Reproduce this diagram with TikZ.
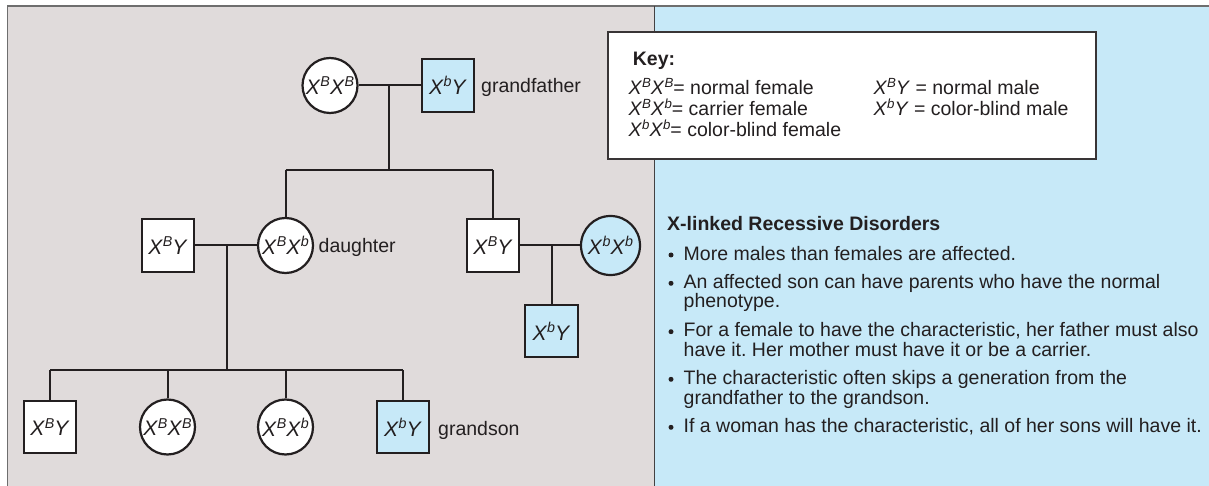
\documentclass[tikz,border=0pt]{standalone}
\usepackage{graphicx}
\usepackage{fontspec}
\setmainfont{Liberation Sans}
\frenchspacing
\definecolor{panelgray}{HTML}{E0DBDB}
\definecolor{panelblue}{HTML}{C7E9F8}
\definecolor{ink}{HTML}{231F20}
\definecolor{framegray}{HTML}{6E6E6E}
\newcommand\xg[1]{\textit{X}\raisebox{0.37em}{\scalebox{0.68}{\textit{#1}}}}
\begin{document}
\begin{tikzpicture}[x=1pt,y=-1pt,
  every node/.style={text=ink},
  body/.style={font=\fontsize{19.5}{19.5}\selectfont},
  ped/.style={font=\fontsize{21}{21}\selectfont},
  male/.style={ped, draw=ink, line width=2.2pt, rectangle, minimum size=52.5pt, inner sep=0pt, fill=white},
  female/.style={ped, draw=ink, line width=2.2pt, circle, minimum size=55pt, inner sep=0pt, fill=white},
  affected/.style={fill=panelblue},
  link/.style={draw=ink, line width=2pt},
  lbl/.style={body, anchor=base west, inner sep=0pt},
  dot/.style={fill=ink, circle, inner sep=0pt, minimum size=5pt}]
\useasboundingbox (0,0) rectangle (1209,486);
% panels
\fill[panelgray] (7.5,6) rectangle (654.5,486);
\fill[panelblue] (654.5,6) rectangle (1209,486);
\draw[framegray, line width=1.5pt] (7.5,486) -- (7.5,6) -- (1209,6);
\draw[ink!85, line width=1.5pt] (654.5,6) -- (654.5,486);

% key box
\draw[draw=ink!90, line width=1.3pt, fill=white] (608,32) rectangle (1096,159);
\node[lbl, font=\bfseries\fontsize{19.5}{19.5}\selectfont] (key) at (632.7,66) {Key:};
\node[lbl] (k1) at (628.3,94.3) {\xg{B}\xg{B}= normal female};
\node[lbl] (k2) at (628.3,116) {\xg{B}\xg{b}= carrier female};
\node[lbl] (k3) at (628.3,136.7) {\xg{b}\xg{b}= color-blind female};
\node[lbl] (k4) at (873.3,94.3) {\xg{B}\textit{Y} = normal male};
\node[lbl] (k5) at (873.3,116) {\xg{b}\textit{Y} = color-blind male};

% disorder text
\node[lbl, font=\bfseries\fontsize{19.5}{19.5}\selectfont] (title) at (667,231) {X-linked Recessive Disorders};
\node[dot] (d1) at (671,255) {};
\node[lbl] (t1) at (683.5,260) {More males than females are affected.};
\node[dot] (d2) at (671,283.3) {};
\node[lbl] (t2a) at (683.5,288.3) {An affected son can have parents who have the normal};
\node[lbl] (t2b) at (683.5,307.7) {phenotype.};
\node[dot] (d3) at (671,331.7) {};
\node[lbl] (t3a) at (683.5,336.7) {For a female to have the characteristic, her father must also};
\node[lbl] (t3b) at (683.5,356) {have it. Her mother must have it or be a carrier.};
\node[dot] (d4) at (671,379.3) {};
\node[lbl] (t4a) at (683.5,384.3) {The characteristic often skips a generation from the};
\node[lbl] (t4b) at (683.5,404) {grandfather to the grandson.};
\node[dot] (d5) at (671,427.3) {};
\node[lbl] (t5) at (683.5,432.3) {If a woman has the characteristic, all of her sons will have it.};

% pedigree - generation I
\node[female] (gm) at (330,85.5) {\xg{B}\xg{B}};
\node[male, affected] (gf) at (448,85.5) {\xg{b}\textit{Y}};
\node[lbl] (gfl) at (481,93) {grandfather};
\coordinate (m1) at (389,85.5);
\coordinate (s1) at (389,170);
\coordinate (s1l) at (285.5,170);
\coordinate (s1r) at (493,170);

% generation II
\node[male] (hus) at (168,245.5) {\xg{B}\textit{Y}};
\node[female] (dau) at (285.5,245.5) {\xg{B}\xg{b}};
\node[lbl] (daul) at (318.5,253) {daughter};
\node[male] (son) at (493,245.5) {\xg{B}\textit{Y}};
\node[female, affected, minimum size=59pt] (wife) at (610.5,245.5) {\xg{b}\xg{b}};
\coordinate (m2) at (227,245.5);
\coordinate (s2) at (227,370);
\coordinate (m3) at (551.5,245.5);

% generation III
\node[male] (c1) at (50,427) {\xg{B}\textit{Y}};
\node[female] (c2) at (167.5,427) {\xg{B}\xg{B}};
\node[female] (c3) at (285.5,427) {\xg{B}\xg{b}};
\node[male, affected] (c4) at (403,427) {\xg{b}\textit{Y}};
\node[lbl] (c4l) at (438,435) {grandson};
\node[male, affected] (gc) at (551.5,331) {\xg{b}\textit{Y}};
\coordinate (s2l) at (50,370);
\coordinate (s2r) at (403,370);

% connectors
\draw[link] (gm.east) -- (gf.west);
\draw[link] (m1) -- (s1);
\draw[link] (s1l) -- (s1r);
\draw[link] (s1l) -- (dau.north);
\draw[link] (s1r) -- (son.north);
\draw[link] (hus.east) -- (dau.west);
\draw[link] (m2) -- (s2);
\draw[link] (s2l) -- (s2r);
\draw[link] (s2l) -- (c1.north);
\draw[link] (c2.north |- s2l) -- (c2.north);
\draw[link] (c3.north |- s2l) -- (c3.north);
\draw[link] (s2r) -- (c4.north);
\draw[link] (son.east) -- (wife.west);
\draw[link] (m3) -- (gc.north);
\end{tikzpicture}
\end{document}
